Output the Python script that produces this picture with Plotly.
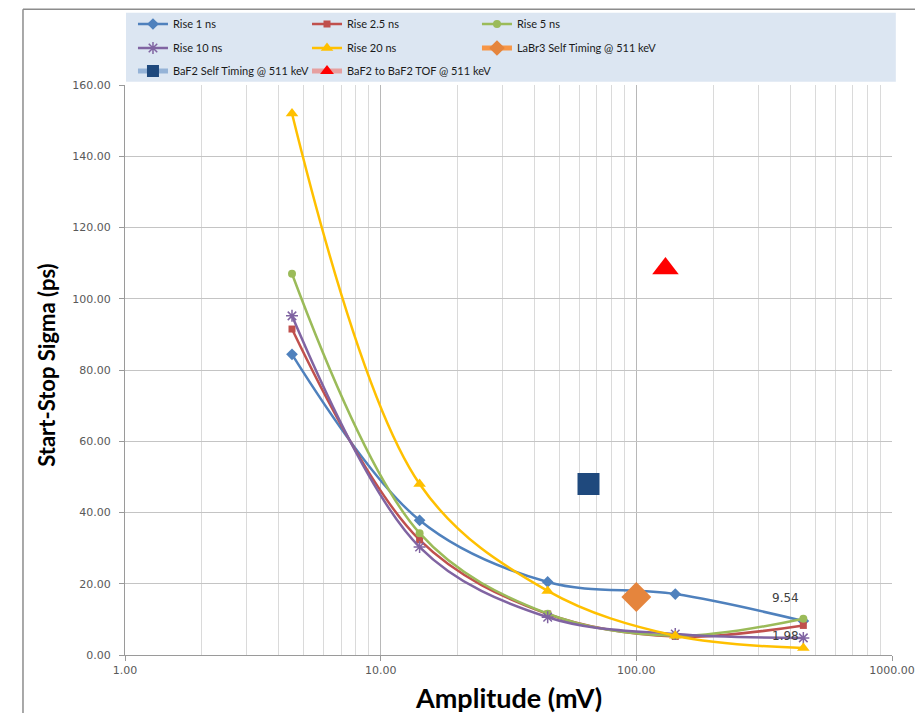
import math
import plotly.graph_objects as go

# ---- data ----
amplitude_mv = [4.5, 14.2, 45, 142, 450]
rise_1ns = [84.4, 37.8, 20.5, 17.1, 9.54]
rise_2_5ns = [91.5, 32.3, 11.5, 5.2, 8.3]
rise_5ns = [107.0, 34.2, 11.6, 5.4, 10.2]
rise_10ns = [95.2, 30.3, 10.6, 5.9, 4.8]
rise_20ns = [152.0, 48.0, 18.0, 5.4, 1.98]

labr3_x = [100]
labr3_y = [16.3]
baf2_self_x = [65]
baf2_self_y = [48.0]
baf2_tof_x = [130]
baf2_tof_y = [108.5]

x_tickvals = [1, 10, 100, 1000]
x_ticktext = ["1.00", "10.00", "100.00", "1000.00"]
y_tickvals = [0, 20, 40, 60, 80, 100, 120, 140, 160]
x_minor = [m * d for d in (1, 10, 100) for m in range(2, 10)]

NARROW = "Lato, Liberation Sans, sans-serif"
TICKFONT = "DejaVu Sans, Verdana, sans-serif"

# legend grid (column x, row y in paper coords)
COLS = [0.0104, 0.2373, 0.4589]
ROWS = [1.107, 1.065, 1.0246]

fig = go.Figure()

series = [
    ("Rise 1 ns", rise_1ns, "#4f81bd", "diamond", 9, 0, 0),
    ("Rise 2.5 ns", rise_2_5ns, "#c0504d", "square", 7, 1, 0),
    ("Rise 5 ns", rise_5ns, "#9bbb59", "circle", 8, 2, 0),
    ("Rise 10 ns", rise_10ns, "#8064a2", "asterisk-open", 10, 0, 1),
    ("Rise 20 ns", rise_20ns, "#ffc000", "triangle-up", 11, 1, 1),
]
legends = {}
k = 0
for name, ys, col, sym, sz, c, r in series:
    k += 1
    lid = "legend" if k == 1 else f"legend{k}"
    legends[lid] = (c, r, "trace")
    fig.add_trace(go.Scatter(
        x=amplitude_mv, y=ys, name=name, mode="lines+markers",
        line=dict(color=col, width=2.5, shape="spline", smoothing=1),
        marker=dict(symbol=sym, size=sz, color=col,
                    line=dict(color=col, width=1.5 if "asterisk" in sym else 0)),
        legend=lid,
    ))

singles = [
    ("LaBr3 Self Timing @ 511 keV", labr3_x, labr3_y, "#f79646", "#e5853d", "diamond", 23, 2, 1),
    ("BaF2 Self Timing @ 511 keV", baf2_self_x, baf2_self_y, "#95b3d7", "#1f497d", "square", 22, 0, 2),
    ("BaF2 to BaF2 TOF @ 511 keV", baf2_tof_x, baf2_tof_y, "#e6a0a0", "#ff0000", "triangle-up", 23, 1, 2),
]
for name, xs, ys, lcol, mcol, sym, sz, c, r in singles:
    k += 1
    lid = f"legend{k}"
    legends[lid] = (c, r, "constant")
    fig.add_trace(go.Scatter(
        x=xs, y=ys, name=name, mode="lines+markers",
        line=dict(color=lcol, width=2.5),
        marker=dict(symbol=sym, size=sz, color=mcol),
        legend=lid,
    ))

# data labels
annotations = [
    dict(x=math.log10(amplitude_mv[-1]), y=rise_1ns[-1], xref="x", yref="y",
         text=f"{rise_1ns[-1]:.2f}", showarrow=False, xshift=-18, yshift=23,
         font=dict(family=TICKFONT, size=12, color="#404040")),
    dict(x=math.log10(amplitude_mv[-1]), y=rise_20ns[-1], xref="x", yref="y",
         text=f"{rise_20ns[-1]:.2f}", showarrow=False, xshift=-18, yshift=12,
         font=dict(family=TICKFONT, size=12, color="#404040")),
    # axis titles
    dict(x=-0.1017, y=0.509, xref="paper", yref="paper", xanchor="center", yanchor="middle",
         text="<b>Start-Stop Sigma (ps)</b>",
         textangle=-90, showarrow=False, font=dict(family=NARROW, size=22, color="#000000")),
    dict(x=0.5, y=-0.0737, xref="paper", yref="paper", xanchor="center", yanchor="middle",
         text="<b>Amplitude (mV)</b>",
         showarrow=False, font=dict(family=NARROW, size=27, color="#000000")),
]

shapes = [
    # legend background
    dict(type="rect", xref="paper", yref="paper", x0=0.0013, x1=1.005, y0=1.0058, y1=1.1268,
         fillcolor="#dce6f2", line=dict(width=0), layer="below"),
    # chart frame lines
    dict(type="line", xref="paper", yref="paper", x0=-0.133, x1=1.05, y0=1.133, y1=1.133,
         line=dict(color="#8c8c8c", width=1.5)),
    dict(type="line", xref="paper", yref="paper", x0=-0.133, x1=-0.133, y0=1.133, y1=-0.12,
         line=dict(color="#8c8c8c", width=1.5)),
]

legend_layout = {}
for lid, (c, r, sizing) in legends.items():
    legend_layout[lid] = dict(
        x=COLS[c], y=ROWS[r], xanchor="left", yanchor="middle",
        orientation="h", bgcolor="rgba(0,0,0,0)", itemsizing=sizing, itemwidth=30,
        font=dict(family=NARROW, size=11, color="#1a1a1a"),
    )

fig.update_layout(
    width=915, height=705,
    margin=dict(l=117, r=31, t=77, b=58, autoexpand=False),
    paper_bgcolor="white", plot_bgcolor="white",
    showlegend=True,
    annotations=annotations,
    shapes=shapes,
    xaxis=dict(
        type="log", range=[0, 3],
        tickvals=x_tickvals, ticktext=x_ticktext,
        tickfont=dict(family=TICKFONT, size=11, color="#595959"),
        showgrid=True, gridcolor="#b8b8b8", gridwidth=1,
        showline=True, linecolor="#9a9a9a", linewidth=1,
        ticks="outside", ticklen=5, tickcolor="#9a9a9a",
        minor=dict(tickvals=x_minor, showgrid=True, gridcolor="#dadada", gridwidth=1),
        zeroline=False,
    ),
    yaxis=dict(
        range=[0, 160], tickvals=y_tickvals, tickformat=".2f",
        tickfont=dict(family=TICKFONT, size=11, color="#595959"),
        showgrid=True, gridcolor="#c4c4c4", gridwidth=1,
        showline=True, linecolor="#9a9a9a", linewidth=1,
        ticks="outside", ticklen=5, tickcolor="#9a9a9a", ticklabelstandoff=6,
        zeroline=False,
    ),
    **legend_layout,
)

fig.write_html("out.html")
